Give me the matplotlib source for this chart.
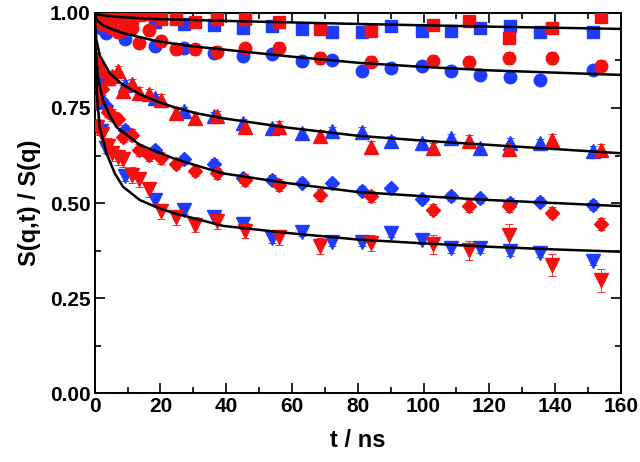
import matplotlib
matplotlib.use("Agg")
import matplotlib.pyplot as plt
from matplotlib.ticker import MultipleLocator

plt.rcParams['font.family'] = ['Liberation Sans Narrow', 'Liberation Sans', 'DejaVu Sans']
plt.rcParams['font.weight'] = 'bold'

# ---- data ----
t_red = [0.8, 2.3, 4.0, 5.4, 7.1, 8.6, 11.2, 13.5, 16.5, 20.3, 24.8, 30.4, 37.3,
         45.6, 56.1, 68.4, 84.0, 102.9, 113.8, 125.9, 139.2, 154.1]
t_blue = [0.6, 1.8, 3.5, 9.1, 18.3, 27.2, 36.2, 45.1, 54.0, 63.1, 72.2, 81.3,
          90.2, 99.4, 108.3, 117.3, 126.4, 135.4, 151.6]

red_square = [0.995, 0.99, 0.985, 0.99, 0.995, 0.99, 0.986, 0.995, 0.997, 0.984, 0.984,
              0.975, 0.983, 0.983, 0.975, 0.957, 0.953, 0.968, 0.980, 0.935, 0.960, 0.988]
red_circle = [0.98, 0.97, 0.965, 0.96, 0.95, 0.955, 0.960, 0.922, 0.954, 0.925, 0.904,
              0.904, 0.898, 0.907, 0.909, 0.881, 0.872, 0.874, 0.871, 0.881, 0.881, 0.861]
red_up = [0.88, 0.85, 0.83, 0.833, 0.846, 0.795, 0.812, 0.789, 0.786, 0.771, 0.736,
          0.723, 0.728, 0.701, 0.701, 0.676, 0.648, 0.644, 0.663, 0.642, 0.666, 0.639]
red_diamond = [0.77, 0.80, 0.74, 0.732, 0.720, 0.675, 0.679, 0.639, 0.626, 0.618, 0.604,
               0.585, 0.578, 0.561, 0.547, 0.521, 0.518, 0.483, 0.492, 0.492, 0.475, 0.445]
red_down = [0.70, 0.682, 0.65, 0.631, 0.620, 0.615, 0.574, 0.562, 0.536, 0.478, 0.463,
            0.443, 0.453, 0.427, 0.410, 0.387, 0.395, 0.392, 0.376, 0.416, 0.337, 0.297]
red_down_err = [0.02, 0.02, 0.02, 0.02, 0.02, 0.02, 0.02, 0.02, 0.02, 0.02, 0.02,
                0.02, 0.02, 0.02, 0.02, 0.02, 0.02, 0.025, 0.025, 0.03, 0.03, 0.03]

blue_square = [0.99, 0.985, 0.986, 0.980, 0.977, 0.970, 0.967, 0.961, 0.966, 0.957,
               0.949, 0.949, 0.966, 0.953, 0.953, 0.961, 0.966, 0.949, 0.949]
blue_circle = [0.975, 0.960, 0.947, 0.931, 0.913, 0.909, 0.894, 0.887, 0.892, 0.874,
               0.876, 0.848, 0.854, 0.861, 0.848, 0.837, 0.831, 0.824, 0.850]
blue_up = [0.87, 0.84, 0.83, 0.811, 0.776, 0.741, 0.728, 0.710, 0.697, 0.683, 0.689,
           0.688, 0.664, 0.657, 0.670, 0.644, 0.659, 0.657, 0.638]
blue_diamond = [0.82, 0.77, 0.755, 0.692, 0.639, 0.615, 0.604, 0.565, 0.561, 0.553,
                0.552, 0.532, 0.539, 0.510, 0.518, 0.512, 0.501, 0.503, 0.495]
blue_down = [0.76, 0.69, 0.644, 0.571, 0.509, 0.483, 0.462, 0.445, 0.407, 0.425, 0.398,
             0.398, 0.422, 0.403, 0.381, 0.381, 0.374, 0.369, 0.348]
red_err = 0.015
blue_err = 0.012

# fit curves
fit1_t = [0, 1, 3, 8, 18, 40, 80, 120, 160]
fit1_y = [1.0, 0.996, 0.993, 0.989, 0.984, 0.979, 0.971, 0.964, 0.958]
fit2_t = [0, 0.5, 1, 2.5, 5, 8.6, 18.8, 29, 40, 60, 80, 100, 120, 140, 160]
fit2_y = [1.0, 0.985, 0.978, 0.968, 0.958, 0.947, 0.926, 0.913, 0.903, 0.885, 0.869,
          0.858, 0.849, 0.843, 0.837]
fit3_t = [0, 0.2, 0.5, 1.5, 4.6, 8.6, 13.7, 18.8, 23.8, 31, 39, 59, 80, 100, 120, 140, 160]
fit3_y = [1.0, 0.96, 0.93, 0.889, 0.841, 0.811, 0.786, 0.768, 0.753, 0.736, 0.723,
          0.698, 0.677, 0.664, 0.653, 0.642, 0.631]
fit4_t = [0, 0.1, 0.3, 1, 2.5, 4.6, 6.6, 13.7, 23.8, 32, 39, 59, 80, 100, 120, 140, 160]
fit4_y = [1.0, 0.95, 0.90, 0.83, 0.77, 0.73, 0.70, 0.653, 0.618, 0.596, 0.578, 0.552,
          0.529, 0.518, 0.508, 0.500, 0.492]
fit5_t = [0, 0.1, 0.3, 0.7, 1.5, 3.6, 6.1, 8.6, 13.7, 18.8, 23.8, 31, 39, 59, 80, 100,
          120, 140, 160]
fit5_y = [1.0, 0.93, 0.86, 0.78, 0.70, 0.631, 0.578, 0.543, 0.508, 0.489, 0.474, 0.458,
          0.440, 0.421, 0.404, 0.394, 0.385, 0.378, 0.372]

RED = '#f51010'
BLUE = '#1e3cff'

fig = plt.figure(figsize=(6.4, 4.62), dpi=100)
ax = fig.add_axes([0.148, 0.149, 0.822, 0.823])

red_series = [(red_square, 's', red_err), (red_circle, 'o', red_err), (red_up, '^', red_err),
              (red_diamond, 'D', red_err), (red_down, 'v', red_down_err)]
blue_series = [(blue_square, 's', blue_err), (blue_circle, 'o', blue_err), (blue_up, '^', blue_err),
               (blue_diamond, 'D', blue_err), (blue_down, 'v', blue_err)]
sizes = {'s': 8, 'o': 9, '^': 9.5, 'D': 7.5, 'v': 9.5}

for vals, m, err in blue_series:
    ax.errorbar(t_blue, vals, yerr=err, fmt=m, color=BLUE, ms=sizes[m], mec=BLUE,
                elinewidth=0.6, capsize=3, capthick=0.6, zorder=3)
for vals, m, err in red_series:
    ax.errorbar(t_red, vals, yerr=err, fmt=m, color=RED, ms=sizes[m], mec=RED,
                elinewidth=0.6, capsize=3, capthick=0.6, zorder=3)

for ft, fy in [(fit1_t, fit1_y), (fit2_t, fit2_y), (fit3_t, fit3_y), (fit4_t, fit4_y), (fit5_t, fit5_y)]:
    ax.plot(ft, fy, color='black', lw=1.8, zorder=5)

ax.set_xlim(0, 160)
ax.set_ylim(0, 1.0)
ax.xaxis.set_major_locator(MultipleLocator(20))
ax.xaxis.set_minor_locator(MultipleLocator(10))
ax.yaxis.set_major_locator(MultipleLocator(0.25))
ax.yaxis.set_minor_locator(MultipleLocator(0.125))
ax.yaxis.set_major_formatter(matplotlib.ticker.FormatStrFormatter('%.2f'))
ax.tick_params(which='both', direction='in', top=True, right=True, width=1.2)
ax.tick_params(which='major', length=7, labelsize=15, pad=3)
ax.tick_params(which='minor', length=4)
for lab in ax.get_xticklabels() + ax.get_yticklabels():
    lab.set_fontweight('bold')
for s in ax.spines.values():
    s.set_linewidth(1.4)

ax.set_xlabel('t / ns', fontsize=17, fontweight='bold', labelpad=9)
ax.set_ylabel('S(q,t) / S(q)', fontsize=17, fontweight='bold', labelpad=6)

fig.savefig('out.png', dpi=100)
